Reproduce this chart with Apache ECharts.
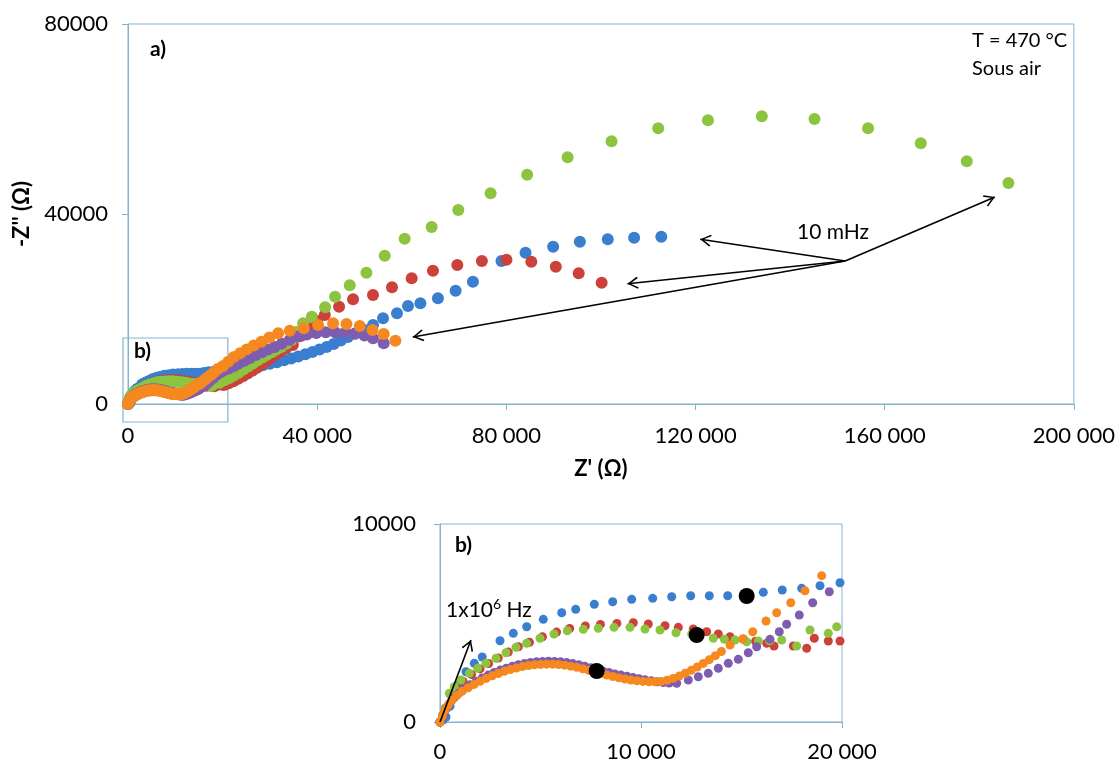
<!DOCTYPE html>
<html><head><meta charset="utf-8">
<script src="https://cdn.jsdelivr.net/npm/echarts@6/dist/echarts.min.js"></script>
<style>html,body{margin:0;padding:0;background:#fff}#c{width:1118px;height:763px}</style>
</head><body><div id="c"></div>
<script>
// ---- data: [Z' (Ohm), -Z'' (Ohm)] ----
const blueData = [[0,0],[150,100],[300,250],[500,800],[750,1400],[1000,1950],[1294,2540],[1707,2964],[2100,3280],[2985,4106],[3647,4479],[4313,4813],[5139,5186],[6055,5520],[6751,5691],[7676,5944],[8592,6075],[9537,6196],[10582,6247],[11527,6328],[12472,6378],[13398,6378],[14313,6378],[15258,6363],[16084,6550],[17029,6666],[17994,6752],[18905,6883],[19900,7035],
[21000,7200],[22500,7400],[24000,7650],[25500,7850],[27000,8000],[28500,8150],[30000,8450],[31500,8800],[33000,9200],[34500,9600],[36000,10000],[37500,10450],[39000,10950],[40500,11450],[42000,12000],[43500,12650],[45000,13350],[46500,14100],[48000,14850],[49800,15650],[51808,16630],[53920,18040],[56876,19092],[59199,20629],[61819,21197],[65534,22250],[69274,23849],[72928,25744],[78968,30102],[84058,31849],[89887,33112],[95546,34164],[101440,34669],[107015,35006],[112760,35217]];
const redData = [[0,0],[150,300],[300,650],[550,1350],[820,1700],[1150,2050],[1570,2400],[1990,2680],[2420,2950],[2900,3230],[3400,3530],[3900,3800],[4450,4030],[5100,4300],[5800,4540],[6450,4720],[7230,4850],[7980,4930],[8800,4980],[9617,5015],[10363,4949],[11194,4863],[11856,4782],[12600,4700],[13268,4560],[13845,4444],[14428,4308],[15089,4192],[15700,4080],[16253,3974],[16617,3838],[17577,3838],[18244,3722],[18622,4227],[19318,4091],[19900,4091],
[20300,4000],[21300,4350],[22300,4800],[23300,5300],[24300,5850],[25300,6400],[26300,7000],[27300,7650],[28300,8350],[29300,9050],[30300,9750],[31300,10450],[32300,11100],[33400,11750],[34850,12420],[36500,14300],[38200,16000],[40000,17500],[41600,18735],[44630,20480],[47583,22040],[51807,22945],[55820,24565],[59981,26460],[64479,28060],[69632,29260],[74828,30102],[80024,30375],[85282,29954],[90457,28902],[95293,27512],[100150,25534]];
const greenData = [[0,0],[120,350],[250,700],[463,1449],[714,1783],[1045,2121],[1460,2459],[1874,2712],[2289,2964],[2786,3217],[3283,3500],[3781,3772],[4313,3974],[4975,4227],[5672,4444],[6333,4611],[7129,4681],[7875,4732],[8657,4782],[9453,4782],[10199,4697],[10945,4646],[11741,4510],[12522,4444],[13597,4227],[14144,4176],[14676,4141],[15258,4055],[15836,4091],[16400,4100],[17000,4141],[17746,3838],[18408,4646],[19318,4479],[19736,4813],
[20400,5000],[21400,5450],[22400,6000],[23400,6600],[24400,7250],[25400,7900],[26400,8550],[27400,9200],[28400,9800],[29400,10350],[30400,10900],[31400,11450],[32400,12000],[33500,12700],[34570,13470],[35800,15200],[37024,16987],[38861,18377],[41677,20356],[43788,22587],[46886,24986],[50409,27640],[54278,31218],[58502,34796],[64205,37259],[69844,40837],[76666,44352],[84395,48268],[92949,51930],[102242,55298],[112105,58035],[122623,59719],[134006,60561],[145158,59993],[156478,58035],[167629,54877],[177344,51089],[186152,46521]];
const purpleData = [[0,0],[150,350],[300,680],[480,950],[700,1220],[950,1470],[1200,1680],[1500,1880],[1800,2060],[2100,2220],[2400,2370],[2700,2500],[3000,2620],[3300,2720],[3600,2810],[3900,2890],[4200,2950],[4500,3000],[4800,3040],[5100,3060],[5400,3070],[5700,3060],[6000,3040],[6300,3000],[6600,2950],[6900,2890],[7200,2820],[7500,2740],[7800,2660],[8100,2580],[8400,2500],[8700,2430],[9000,2370],[9300,2310],[9600,2250],[9900,2190],[10200,2130],[10500,2080],[10800,2030],[11100,1990],[11400,1965],[11776,1955],[12353,2121],[12851,2288],[13348,2459],[13846,2712],[14343,2964],[14841,3166],[15338,3500],[15756,3803],[16418,4176],[16880,4560],[17248,4934],[17875,5404],[18542,6025],[19368,6580],
[20100,7000],[21200,7400],[22300,7950],[23400,8500],[24600,9100],[25800,9700],[27000,10300],[28300,10900],[29600,11450],[31000,12000],[32500,12700],[34200,13500],[36000,14200],[37800,14650],[39800,14950],[41800,15100],[43800,15100],[45900,15000],[48000,14800],[50000,14400],[51808,13830],[54067,12777]];
const orangeData = [[0,0],[120,300],[250,600],[400,850],[600,1100],[850,1350],[1100,1550],[1400,1730],[1700,1900],[2000,2060],[2300,2200],[2600,2330],[2900,2450],[3200,2560],[3500,2650],[3800,2730],[4100,2800],[4400,2850],[4700,2890],[5000,2910],[5300,2920],[5600,2920],[5900,2900],[6200,2870],[6500,2820],[6800,2760],[7100,2690],[7400,2610],[7700,2530],[8000,2450],[8300,2370],[8600,2300],[8900,2230],[9200,2170],[9500,2120],[9800,2080],[10100,2050],[10400,2030],[10700,2030],[11000,2050],[11300,2110],[11600,2200],[11900,2320],[12200,2460],[12500,2610],[12800,2780],[13100,2960],[13400,3150],[13700,3350],[14000,3560],[14430,3890],[15060,4190],[15560,4560],[16220,5100],[16750,5520],[17450,6025],[18160,6630],[18990,7390],
[20100,8000],[21200,8900],[22400,9900],[23700,10700],[25100,11500],[26600,12300],[28200,13100],[29900,14000],[31743,14880],[34214,15430],[37171,15935],[40191,16630],[43360,16990],[46190,16840],[49000,16420],[51680,15577],[54067,14735],[56540,13325]];
const markerData = [[7795,2576],[12771,4394],[15258,6364]];
// annotation anchors (data coords)
const arrowFrom = [151642,30102];
const arrowTips = [[121000,34700],[105600,25300],[60200,14100],[183300,43600]];
const insetArrow = [[0,0],[1540,4140]];
const zoomBox = [[-1056,13893],[21120,-3789]];
// axis settings
const mainX = {min:0,max:200000,step:40000};
const mainY = {min:0,max:80000,step:40000};
const insX = {min:0,max:20000,step:10000};
const insY = {min:0,max:10000,step:10000};

const colors = {blue:'#3A7ECF',red:'#CC4139',green:'#8CC43F',purple:'#7E5DB0',orange:'#F5891F'};
const AX = '#84B3D2';
const FONT = 'Lato';
const spaceFmt = v => String(v).replace(/\B(?=(\d{3})+(?!\d))/g,' ');
const arrowSym = 'path://M5,-9.5M5,0L10,8.5L9,9.5L5,2.4L1,9.5L0,8.5Z';

const chart = echarts.init(document.getElementById('c'));
function axis(gi, r, fmt, margin){
  return {type:'value', gridIndex:gi, min:r.min, max:r.max, interval:r.step,
    axisLine:{show:true,lineStyle:{color:AX,width:1}},
    axisTick:{show:true,length:6,lineStyle:{color:AX}},
    splitLine:{show:false},
    axisLabel:{color:'#000',fontFamily:FONT,fontSize:22,margin:margin,formatter:fmt}};
}
const xm = axis(0, mainX, spaceFmt, 21);
xm.name = "Z' (\u03A9)"; xm.nameLocation='middle'; xm.nameGap=54;
xm.nameTextStyle = {fontFamily:FONT,fontSize:22,fontWeight:'bold',color:'#000'};
const ym = axis(0, mainY, v=>String(v), 20);
ym.name = "-Z'' (\u03A9)"; ym.nameLocation='middle'; ym.nameGap=95;
ym.nameTextStyle = {fontFamily:FONT,fontSize:22,fontWeight:'bold',color:'#000'};
const xi = axis(1, insX, spaceFmt, 19);
const yi = axis(1, insY, v=>String(v), 24);

const series = [];
const sets = [['blue',blueData],['red',redData],['green',greenData],['purple',purpleData],['orange',orangeData]];
sets.forEach(([k,d])=>{
  series.push({type:'scatter',xAxisIndex:0,yAxisIndex:0,data:d,symbolSize:12,itemStyle:{color:colors[k],opacity:1},silent:true});
});
sets.forEach(([k,d])=>{
  series.push({type:'scatter',xAxisIndex:1,yAxisIndex:1,data:d,symbolSize:9,itemStyle:{color:colors[k],opacity:1},silent:true});
});
series.push({type:'scatter',xAxisIndex:1,yAxisIndex:1,data:markerData,symbolSize:16,itemStyle:{color:'#000',opacity:1},silent:true});
series.push({type:'scatter',xAxisIndex:0,yAxisIndex:0,data:[],clip:false,silent:true,
  markLine:{silent:true,animation:false,symbol:['none',arrowSym],symbolSize:[12,22],
    lineStyle:{color:'#000',width:1.6,type:'solid'},label:{show:false},
    data:arrowTips.map(t=>[{coord:arrowFrom},{coord:t}])}});
series.push({type:'scatter',xAxisIndex:1,yAxisIndex:1,data:[],clip:false,silent:true,
  markLine:{silent:true,animation:false,symbol:['none',arrowSym],symbolSize:[12,22],
    lineStyle:{color:'#000',width:1.6,type:'solid'},label:{show:false},
    data:[[{coord:insetArrow[0]},{coord:insetArrow[1]}]]}});

const txt = (left,top,text,bold,size)=>({type:'text',left:left,top:top,silent:true,
  style:{text:text,fill:'#000',font:(bold?'bold ':'')+(size||21)+'px '+FONT}});
const option = {
  animation:false,
  grid:[{left:128,top:24,width:947,height:380,show:true,borderColor:AX,borderWidth:1,containLabel:false},
        {left:440,top:524,width:402,height:198,show:true,borderColor:AX,borderWidth:1,containLabel:false}],
  xAxis:[xm,xi], yAxis:[ym,yi], series:series,
  graphic:[
    txt(150,39,'a)',true,21),
    txt(134,341,'b)',true,21),
    txt(455,535,'b)',true,21),
    txt(972,31,'T = 470 \u00B0C',false,20),
    txt(972,59,'Sous air',false,20),
    txt(797,222,'10 mHz',false,21),
    {type:'text',left:446,top:597,silent:true,style:{text:'{a|1x10}{s|6}{a| Hz}',rich:{
      a:{fontFamily:FONT,fontSize:21,fill:'#000',color:'#000'},
      s:{fontFamily:FONT,fontSize:14,color:'#000',padding:[0,0,13,0]}}}}
  ]
};
chart.setOption(option);
const p0 = chart.convertToPixel({gridIndex:0}, zoomBox[0]);
const p1 = chart.convertToPixel({gridIndex:0}, zoomBox[1]);
chart.setOption({graphic:[{id:'zoomBox',type:'rect',silent:true,
  shape:{x:p0[0],y:p0[1],width:p1[0]-p0[0],height:p1[1]-p0[1]},
  style:{fill:'none',stroke:AX,lineWidth:1.2}}]});
</script></body></html>
